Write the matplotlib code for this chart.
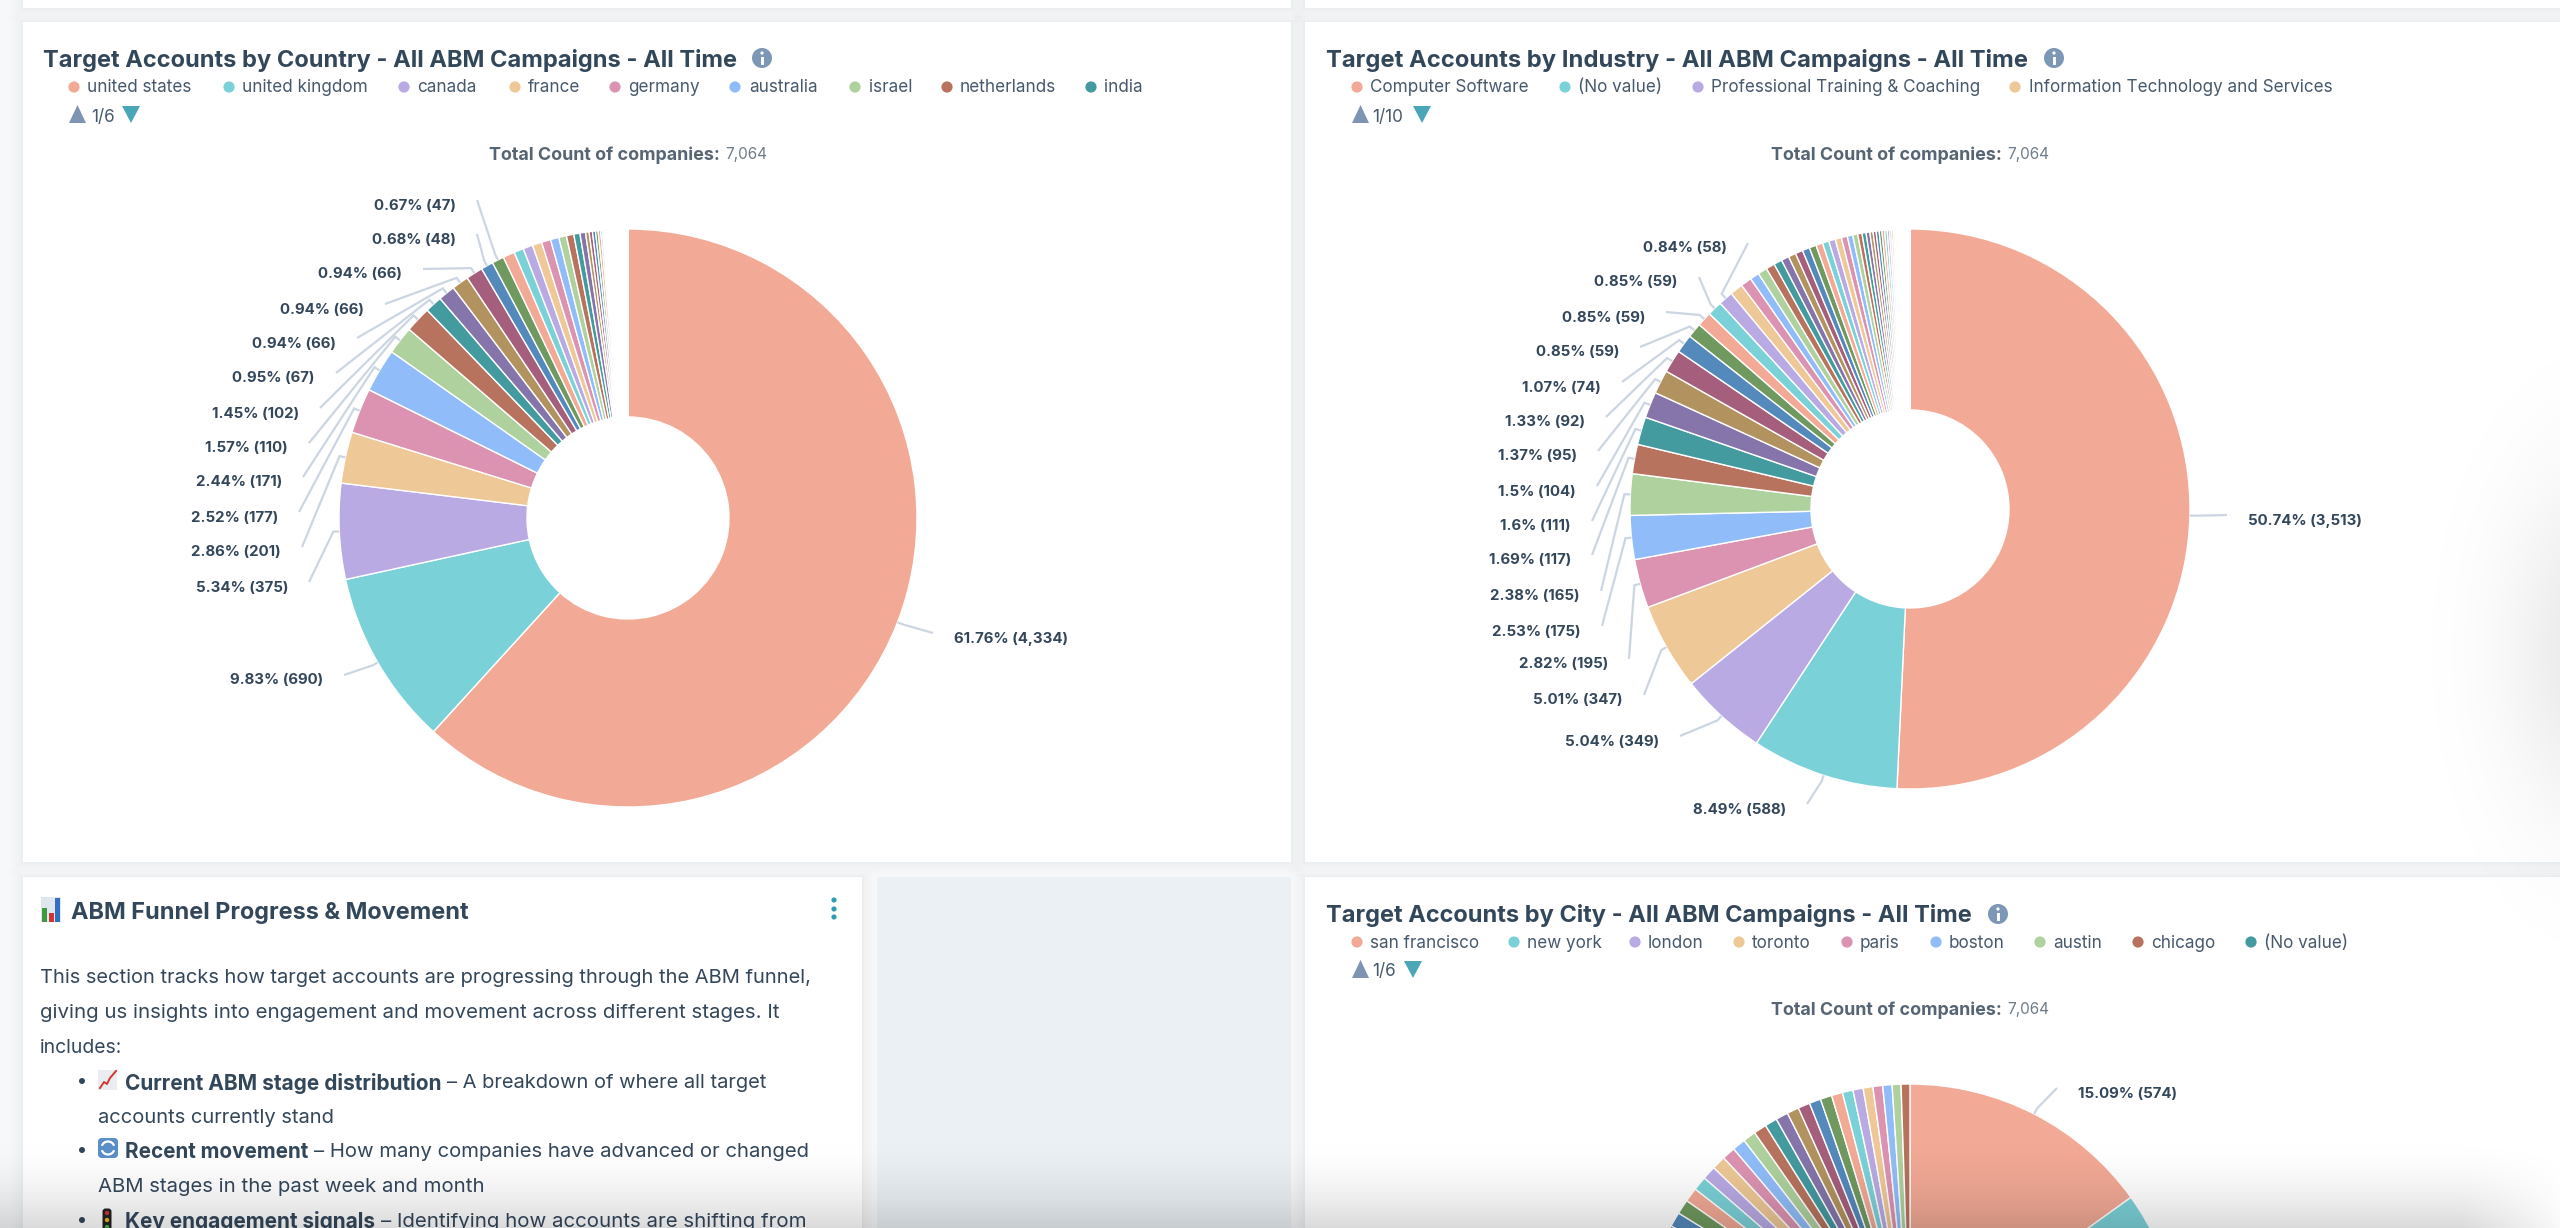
import numpy as np
import matplotlib
matplotlib.use("Agg")
import matplotlib.pyplot as plt
from matplotlib.patches import Rectangle, Circle, Polygon, FancyBboxPatch, Arc

W, H = 2560, 1228
FONT = ["Inter", "Noto Sans", "DejaVu Sans"]
plt.rcParams["font.family"] = FONT

# ---------- data ----------
palette = ["#f2a995", "#7bd1d8", "#b9aae4", "#eec896", "#dc93b1", "#90bdf9", "#aed19d",
           "#b7735e", "#439a9f", "#8575ab", "#b2935f", "#a55e7c", "#5489bc", "#70995f"]

country_values = [4334, 690, 375, 201, 177, 171, 110, 102, 67, 66, 66, 66, 48, 47,
                  46, 38, 38, 37, 36, 33, 30, 29, 24, 22, 14, 13, 12, 10, 10,
                  7, 5, 3, 3, 2, 2, 2, 2,
                  1, 1, 1, 1, 1, 1, 1, 1, 1, 1, 1, 1, 1, 1, 1, 1, 1, 1, 1, 1,
                  1, 1, 1, 1, 1, 1, 1, 1, 1, 1, 1, 1, 1, 1, 1, 1, 1, 1, 1, 1,
                  1, 1, 1, 1, 1, 1, 1, 1, 1, 1, 1, 1, 1, 1, 1, 1, 1, 1, 1, 1,
                  1, 1, 1, 1, 1, 1, 1, 1, 1, 1, 1, 1, 1, 1, 1, 1, 1, 1, 1, 1]
country_labels = ["61.76% (4,334)", "9.83% (690)", "5.34% (375)", "2.86% (201)", "2.52% (177)",
                  "2.44% (171)", "1.57% (110)", "1.45% (102)", "0.95% (67)", "0.94% (66)",
                  "0.94% (66)", "0.94% (66)", "0.68% (48)", "0.67% (47)"]
country_legend = ["united states", "united kingdom", "canada", "france", "germany",
                  "australia", "israel", "netherlands", "india"]

industry_values = [3513, 588, 349, 347, 195, 175, 165, 117, 111, 104, 95, 92, 74, 59, 59, 59, 58,
                   52, 44, 37, 37, 35, 33, 31, 30, 30, 29, 28, 27, 26, 26, 25, 24, 22, 20, 17, 16,
                   15, 13, 12, 12, 11, 11, 10, 9, 8, 7, 6, 5, 5, 4, 4, 3, 3, 3, 2, 2, 2, 2, 2, 2,
                   1, 1, 1, 1, 1, 1, 1, 1, 1, 1, 1, 1, 1, 1, 1, 1, 1, 1, 1, 1, 1]
industry_labels = ["50.74% (3,513)", "8.49% (588)", "5.04% (349)", "5.01% (347)", "2.82% (195)",
                   "2.53% (175)", "2.38% (165)", "1.69% (117)", "1.6% (111)", "1.5% (104)",
                   "1.37% (95)", "1.33% (92)", "1.07% (74)", "0.85% (59)", "0.85% (59)",
                   "0.85% (59)", "0.84% (58)"]
industry_legend = ["Computer Software", "(No value)", "Professional Training & Coaching",
                   "Information Technology and Services"]

city_values = [574, 496, 290, 200, 180, 150, 120, 110, 100, 90, 85, 80, 70, 65, 60, 55, 52, 50,
               48, 46, 44, 42, 40, 38, 36, 34,
               33, 33, 32, 32, 31, 31, 30, 30, 29, 29, 28, 28, 27, 27, 26, 26, 25, 24, 23, 22,
               22, 21, 20, 20]
city_labels = ["15.09% (574)"]
city_legend = ["san francisco", "new york", "london", "toronto", "paris", "boston", "austin",
               "chicago", "(No value)"]

titles = ["Target Accounts by Country - All ABM Campaigns - All Time",
          "Target Accounts by Industry - All ABM Campaigns - All Time",
          "Target Accounts by City - All ABM Campaigns - All Time"]
total_label = "Total Count of companies:"
total_value = "7,064"

# ---------- layout (pixels) ----------
country_lab_edge = [954, 323, 288, 281, 278, 282, 288, 299, 315, 336, 364, 402, 456, 456]
country_lab_y = [637, 679, 586, 551, 516, 481, 447, 412, 377, 342, 308, 273, 238, 204]
industry_lab_edge = [2248, 1786, 1659, 1623, 1608, 1581, 1580, 1571, 1571, 1576, 1577, 1585, 1601,
                     1619, 1645, 1678, 1727]
industry_lab_y = [519, 808, 740, 699, 663, 630, 595, 559, 525, 490, 455, 421, 386, 351, 316, 281, 247]
city_lab_edge = [2078]
city_lab_y = [1092]

fig = plt.figure(figsize=(W / 100, H / 100), dpi=100, facecolor="#f6f8fa")
bg = fig.add_axes([0, 0, 1, 1], zorder=0)
bg.set_xlim(0, W); bg.set_ylim(H, 0); bg.axis("off")
top = fig.add_axes([0, 0, 1, 1], zorder=2)
top.set_xlim(0, W); top.set_ylim(H, 0); top.axis("off"); top.patch.set_alpha(0)
fx = fig.add_axes([0, 0, 1, 1], zorder=3)
fx.axis("off"); fx.patch.set_alpha(0)


def card(x0, y0, x1, y1, color="white", shadow=True):
    if shadow:
        for g, a in zip([14, 10, 7, 4, 2], [.005, .006, .007, .009, .012]):
            bg.add_patch(Rectangle((x0 - g, y0 - g * .6), x1 - x0 + 2 * g, y1 - y0 + 1.6 * g,
                                   fc="#33475b", ec="none", alpha=a))
    bg.add_patch(Rectangle((x0, y0), x1 - x0, y1 - y0, fc=color, ec="none"))


card(23, -20, 1291, 8)
card(1305, -20, 2580, 8)
card(23, 22, 1291, 862)
card(1305, 22, 2580, 862)
card(23, 877, 862, 1250)
card(877, 877, 1291, 1250, "#eaf0f4", shadow=False)
card(1305, 877, 2580, 1250)

renderer = fig.canvas.get_renderer()


def put(x, y, s, size, color="#33475b", weight="normal", ha="left", fit=None):
    t = top.text(x, y, s, fontsize=size, color=color, weight=weight, ha=ha, va="center_baseline")
    if fit:
        t.set_fontsize(size * fit / t.get_window_extent(renderer).width)
    return t


def pie(values, cx, cy, r, inner):
    ax = fig.add_axes([(cx - r) / W, 1 - (cy + r) / H, 2 * r / W, 2 * r / H], zorder=1)
    cols = [palette[i % len(palette)] for i in range(len(values))]
    ax.pie(values, colors=cols, startangle=90, counterclock=False, radius=1,
           wedgeprops=dict(width=1 - inner / r, edgecolor="white", linewidth=1.0))
    ax.set_xlim(-1, 1); ax.set_ylim(-1, 1); ax.set_aspect("auto")
    ax.patch.set_alpha(0)


def leaders(values, labels, edges, ys, cx, cy, r):
    total = sum(values)
    cum = np.cumsum(values)
    for i, lab in enumerate(labels):
        a = 2 * np.pi * (cum[i] - values[i] / 2) / total
        s, c = np.sin(a), np.cos(a)
        right = s > 0
        end = edges[i] + (-21 if right else 21)
        top.plot([cx + r * s, cx + (r + 6) * s, end], [cy - r * c, cy - (r + 6) * c, ys[i] - 4],
                 color="#cbd6e2", lw=1.6, solid_capstyle="butt", solid_joinstyle="miter")
        put(edges[i], ys[i], lab, 10.8, weight="bold", ha="left" if right else "right")


def legend(names, marks, texts, y, up_x, pager, pager_x, down_x):
    for i, n in enumerate(names):
        top.add_patch(Circle((marks[i], y), 5.6, fc=palette[i], ec="none"))
        put(texts[i], y - 1, n, 12.3, color="#46596c")
    py = y + 28
    top.add_patch(Polygon([(up_x, py + 8), (up_x + 17, py + 8), (up_x + 8.5, py - 10)], fc="#7f93b2", ec="none"))
    top.add_patch(Polygon([(down_x, py - 9), (down_x + 18, py - 9), (down_x + 9, py + 8)], fc="#4ba7b7", ec="none"))
    put(pager_x, py, pager, 12.3, color="#46596c")


def info(x, y):
    top.add_patch(Circle((x, y), 10, fc="#7c98b6", ec="none"))
    top.add_patch(Circle((x, y - 5), 1.6, fc="white", ec="none"))
    top.add_patch(Rectangle((x - 1.5, y - 1.5), 3, 8, fc="white", ec="none"))


# ---------- charts ----------
pie(country_values, 628, 518, 289, 101)
pie(industry_values, 1910, 509, 280, 99)
pie(city_values, 1910, 1356, 272, 96)

leaders(country_values, country_labels, country_lab_edge, country_lab_y, 628, 518, 289)
leaders(industry_values, industry_labels, industry_lab_edge, industry_lab_y, 1910, 509, 280)
leaders(city_values, city_labels, city_lab_edge, city_lab_y, 1910, 1356, 272)

put(43, 58, titles[0], 16, weight="bold", fit=694)
put(1326, 58, titles[1], 16, weight="bold", fit=702)
put(1326, 913, titles[2], 16, weight="bold", fit=646)
info(762, 58); info(2054, 58); info(1998, 914)

legend(country_legend, [74, 229, 404, 515, 615, 735, 855, 947, 1091],
       [87, 242, 417, 528, 628, 749, 869, 960, 1104], 87, 69, "1/6", 91, 122)
legend(industry_legend, [1357, 1565, 1698, 2015], [1370, 1578, 1711, 2029], 87, 1352, "1/10", 1372, 1413)
legend(city_legend, [1357, 1514, 1635, 1739, 1847, 1936, 2040, 2138, 2251],
       [1370, 1527, 1648, 1752, 1860, 1949, 2053, 2151, 2264], 942, 1352, "1/6", 1372, 1404)

for x0, y in [(489, 153), (1771, 153), (1771, 1008)]:
    put(x0, y, total_label, 11, color="#566573", weight="bold", fit=232)
    put(x0 + 236, y, total_value, 11, color="#6f7d8a", fit=42)

# ---------- text card ----------
put(71, 911, "ABM Funnel Progress & Movement", 16, weight="bold", fit=398)
for yy in [900, 909, 917]:
    top.add_patch(Circle((834, yy), 2.6, fc="#2e9fb3", ec="none"))
bg.add_patch(Rectangle((41, 897), 20, 25, fc="#dfe6ee", ec="none"))
bg.add_patch(Rectangle((42, 908), 5, 14, fc="#3f9a3f", ec="none"))
bg.add_patch(Rectangle((49, 913), 5, 9, fc="#d0352f", ec="none"))
bg.add_patch(Rectangle((55, 898), 5, 24, fc="#2f6fc4", ec="none"))

put(40, 976, "This section tracks how target accounts are progressing through the ABM funnel,", 14.5, fit=771)
put(40, 1011, "giving us insights into engagement and movement across different stages. It", 14.5, fit=737)
put(40, 1046, "includes:", 14.5, fit=82)
for yy in [1081, 1150, 1220]:
    top.add_patch(Circle((82, yy), 3, fc="#33475b", ec="none"))
put(125, 1081, "Current ABM stage distribution", 14.5, weight="bold", fit=316)
put(447, 1081, "– A breakdown of where all target", 14.5, fit=320)
put(98, 1116, "accounts currently stand", 14.5, fit=236)
put(125, 1150, "Recent movement", 14.5, weight="bold", fit=183)
put(314, 1150, "– How many companies have advanced or changed", 14.5, fit=494)
put(98, 1185, "ABM stages in the past week and month", 14.5, fit=385)
put(125, 1220, "Key engagement signals", 14.5, weight="bold", fit=250)
put(381, 1220, "– Identifying how accounts are shifting from", 14.5, fit=425)

# small pictographs next to the bullets
top.add_patch(Rectangle((98, 1070), 19, 20, fc="#e9edf2", ec="none"))
top.plot([100, 104, 107, 110, 116], [1088, 1082, 1084, 1078, 1071], color="#d0352f", lw=1.4)
top.add_patch(FancyBboxPatch((100, 1140), 16, 16, boxstyle="round,pad=2,rounding_size=4", fc="#5b8fc7", ec="none"))
top.add_patch(Arc((108, 1148), 13, 13, theta1=200, theta2=340, color="white", lw=1.6))
top.add_patch(Arc((108, 1148), 13, 13, theta1=20, theta2=160, color="white", lw=1.6))
top.add_patch(FancyBboxPatch((104, 1210), 6, 20, boxstyle="round,pad=1.5,rounding_size=3", fc="#222222", ec="none"))
for yy, col in [(1213, "#d0352f"), (1220, "#e6b422"), (1227, "#4caf50")]:
    top.add_patch(Circle((107, yy), 2.2, fc=col, ec="none"))

# ---------- screen shadow overlays ----------
yy, xx = np.mgrid[0:H, 0:W]
bottom = np.clip((yy - 1130) / (H - 1130), 0, 1) ** 2 * 0.15
bottom = bottom * np.clip((2570 - xx) / 110, 0, 1) ** 0.8
side = np.exp(-(((xx - 2600) / 95.0) ** 2 + ((yy - 650) / 170.0) ** 2)) * 0.09
alpha = np.clip(bottom + side, 0, 1)
rgba = np.zeros((H, W, 4))
rgba[..., 3] = alpha
fx.imshow(rgba, extent=(0, W, H, 0), aspect="auto", interpolation="bilinear")
fx.set_xlim(0, W); fx.set_ylim(H, 0)

fig.savefig("out.png", dpi=100, facecolor=fig.get_facecolor())
